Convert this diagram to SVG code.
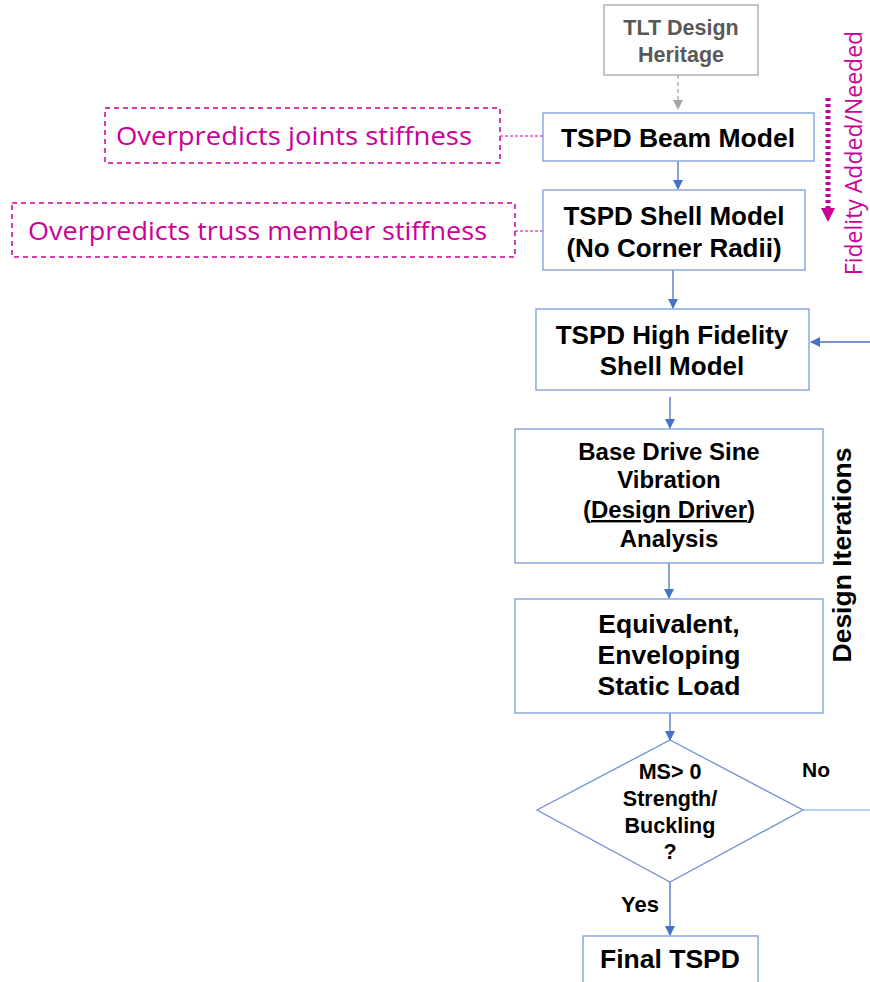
<svg xmlns="http://www.w3.org/2000/svg" width="870" height="982" viewBox="0 0 870 982">
<style>
.box{fill:#fff;stroke:#7b9bd6;stroke-width:1.3}
.t{font-family:"Liberation Sans",Arial,sans-serif;font-weight:bold;fill:#000;text-anchor:middle}
.c{font-family:"Open Sans","Noto Sans",sans-serif;fill:#cc0099}
.cb{fill:none;stroke:#cc0099;stroke-width:1.5;stroke-dasharray:5,4}
.arr{stroke:#4472c4;stroke-width:1.3;fill:none}
</style>
<defs>
<marker id="ah" markerWidth="10" markerHeight="10" refX="9" refY="5" orient="auto" markerUnits="userSpaceOnUse" viewBox="0 0 10 10"><path d="M0,0 L10,5 L0,10 z" fill="#4472c4"/></marker>
<marker id="ahg" markerWidth="10" markerHeight="10" refX="9" refY="5" orient="auto" markerUnits="userSpaceOnUse" viewBox="0 0 10 10"><path d="M0,0 L10,5 L0,10 z" fill="#a6a6a6"/></marker>
<marker id="ahm" markerWidth="14" markerHeight="14" refX="10" refY="7" orient="auto" markerUnits="userSpaceOnUse" viewBox="0 0 14 14"><path d="M0,0 L14,7 L0,14 z" fill="#cc0099"/></marker>
</defs>
<g id="connectors">
<line x1="678" y1="75" x2="678" y2="109" stroke="#a6a6a6" stroke-width="1.3" stroke-dasharray="4,3" marker-end="url(#ahg)"/>
<line class="arr" x1="678" y1="161" x2="678" y2="189" marker-end="url(#ah)"/>
<line class="arr" x1="673" y1="270" x2="673" y2="308" marker-end="url(#ah)"/>
<line class="arr" x1="870" y1="342" x2="811" y2="342" marker-end="url(#ah)"/>
<line class="arr" x1="670" y1="397" x2="670" y2="428" marker-end="url(#ah)"/>
<line class="arr" x1="669" y1="563" x2="669" y2="598" marker-end="url(#ah)"/>
<line class="arr" x1="670" y1="713" x2="670" y2="740" marker-end="url(#ah)"/>
<line x1="803" y1="810" x2="870" y2="810" stroke="#9dc3e6" stroke-width="1.3"/>
<line class="arr" x1="670" y1="882" x2="670" y2="935" marker-end="url(#ah)"/>
<line x1="500" y1="136" x2="543" y2="136" stroke="#cc0099" stroke-width="1" stroke-dasharray="3,2"/>
<line x1="515" y1="231" x2="543" y2="231" stroke="#cc0099" stroke-width="1" stroke-dasharray="3,2"/>
<line x1="828" y1="98" x2="828" y2="218" stroke="#cc0099" stroke-width="5" stroke-dasharray="3,3" marker-end="url(#ahm)"/>
</g>
<g id="tlt">
<rect x="604" y="5" width="154" height="70" fill="#fff" stroke="#a6a6a6" stroke-width="1.3"/>
<text class="t" x="681" y="35" font-size="21.5" style="fill:#595959">TLT Design</text>
<text class="t" x="681" y="62" font-size="21.5" style="fill:#595959">Heritage</text>
</g>
<g id="beam">
<rect class="box" x="543" y="113" width="271" height="48"/>
<text class="t" x="678" y="147" font-size="26.5">TSPD Beam Model</text>
</g>
<g id="shell">
<rect class="box" x="543" y="190" width="262" height="80"/>
<text class="t" x="674" y="225" font-size="26">TSPD Shell Model</text>
<text class="t" x="674" y="257" font-size="26">(No Corner Radii)</text>
</g>
<g id="hf">
<rect class="box" x="536" y="309" width="273" height="81"/>
<text class="t" x="672" y="344" font-size="26">TSPD High Fidelity</text>
<text class="t" x="672" y="375" font-size="26">Shell Model</text>
</g>
<g id="base">
<rect class="box" x="515" y="429" width="308" height="134"/>
<text class="t" x="669" y="460" font-size="24">Base Drive Sine</text>
<text class="t" x="669" y="488" font-size="24">Vibration</text>
<text class="t" x="669" y="518" font-size="24">(<tspan text-decoration="underline">Design Driver</tspan>)</text>
<text class="t" x="669" y="547" font-size="24">Analysis</text>
</g>
<g id="equiv">
<rect class="box" x="515" y="599" width="308" height="114"/>
<text class="t" x="669" y="633" font-size="26.5">Equivalent,</text>
<text class="t" x="669" y="664" font-size="26.5">Enveloping</text>
<text class="t" x="669" y="695" font-size="26.5">Static Load</text>
</g>
<g id="decision">
<polygon points="670,740 803,810 670,882 537,810" fill="#fff" stroke="#6f8fd0" stroke-width="1.3"/>
<text class="t" x="670" y="779" font-size="21.5">MS&gt; 0</text>
<text class="t" x="670" y="806" font-size="21.5">Strength/</text>
<text class="t" x="670" y="833" font-size="21.5">Buckling</text>
<text class="t" x="670" y="859" font-size="21.5">?</text>
</g>
<g id="final">
<rect class="box" x="583" y="936" width="175" height="60"/>
<text class="t" x="670" y="968" font-size="26.5">Final TSPD</text>
</g>
<g id="labels">
<text class="t" x="816" y="777" font-size="21">No</text>
<text class="t" x="640" y="912" font-size="22">Yes</text>
<text class="t" transform="translate(851,555) rotate(-90)" font-size="26.5">Design Iterations</text>
<text class="c" transform="translate(862,153) rotate(-90)" font-size="23" text-anchor="middle">Fidelity Added/Needed</text>
</g>
<g id="callout1">
<rect class="cb" x="105" y="108" width="395" height="55"/>
<text class="c" x="116" y="145" font-size="25" textLength="356" lengthAdjust="spacingAndGlyphs">Overpredicts joints stiffness</text>
</g>
<g id="callout2">
<rect class="cb" x="12" y="203" width="503" height="54"/>
<text class="c" x="28" y="240" font-size="25" textLength="459" lengthAdjust="spacingAndGlyphs">Overpredicts truss member stiffness</text>
</g>
</svg>
